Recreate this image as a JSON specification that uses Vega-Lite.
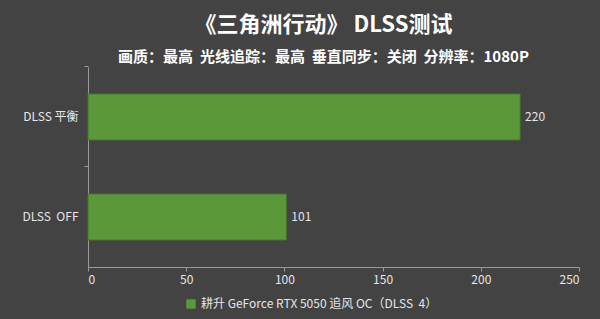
{
  "$schema": "https://vega.github.io/schema/vega-lite/v6.json",
  "autosize": "none",
  "width": 491,
  "height": 200,
  "padding": {"left": 88, "top": 67, "right": 21, "bottom": 52},
  "background": "#434343",
  "config": {
    "view": {"stroke": null},
    "font": "Noto Sans CJK SC"
  },
  "title": {
    "text": "《三角洲行动》 DLSS测试",
    "subtitle": "画质：最高\u00a0\u00a0光线追踪：最高\u00a0\u00a0垂直同步：关闭\u00a0\u00a0分辨率：1080P",
    "anchor": "middle",
    "frame": "group",
    "dx": -10,
    "fontSize": 22,
    "fontWeight": "bold",
    "color": "#ffffff",
    "subtitleFontSize": 15,
    "subtitleFontWeight": "bold",
    "subtitleColor": "#ffffff",
    "subtitlePadding": 13,
    "offset": 0
  },
  "data": {
    "values": [
      {"setting": "DLSS 平衡", "fps": 220, "gpu": "耕升 GeForce RTX 5050 追风 OC（DLSS\u00a0\u00a04）"},
      {"setting": "DLSS\u00a0\u00a0OFF", "fps": 101, "gpu": "耕升 GeForce RTX 5050 追风 OC（DLSS\u00a0\u00a04）"}
    ]
  },
  "encoding": {
    "y": {
      "field": "setting",
      "type": "nominal",
      "sort": null,
      "title": null,
      "scale": {"paddingInner": 0.54, "paddingOuter": 0.27},
      "axis": {
        "domainColor": "#9a9a9a",
        "tickColor": "#9a9a9a",
        "tickSize": 4,
        "bandPosition": -0.587,
        "labelColor": "#e6e6e6",
        "labelFontSize": 12,
        "labelPadding": 6
      }
    },
    "x": {
      "field": "fps",
      "type": "quantitative",
      "title": null,
      "scale": {"domain": [0, 250]},
      "axis": {
        "values": [0, 50, 100, 150, 200, 250],
        "grid": false,
        "domainColor": "#9a9a9a",
        "tickColor": "#9a9a9a",
        "tickSize": 4,
        "labelColor": "#e6e6e6",
        "labelFontSize": 12,
        "labelPadding": 3
      }
    }
  },
  "layer": [
    {
      "mark": {"type": "bar", "stroke": "#48752f", "strokeWidth": 1},
      "encoding": {
        "color": {
          "field": "gpu",
          "type": "nominal",
          "scale": {"range": ["#5b983a"]},
          "legend": {
            "title": null,
            "orient": "none",
            "legendX": 97,
            "legendY": 231,
            "direction": "horizontal",
            "symbolType": "square",
            "symbolSize": 90,
            "symbolStrokeWidth": 0,
            "labelColor": "#e6e6e6",
            "labelFontSize": 12,
            "labelLimit": 400
          }
        }
      }
    },
    {
      "mark": {"type": "text", "align": "left", "dx": 5, "fontSize": 12, "color": "#e6e6e6"},
      "encoding": {"text": {"field": "fps", "type": "quantitative"}}
    }
  ]
}
